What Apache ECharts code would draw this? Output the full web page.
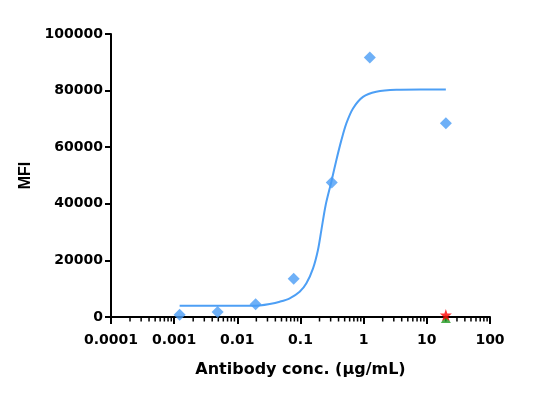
<!DOCTYPE html>
<html><head><meta charset="utf-8">
<script src="https://cdn.jsdelivr.net/npm/echarts@6/dist/echarts.min.js"></script>
<style>html,body{margin:0;padding:0;background:#fff}#c{width:545px;height:400px}</style>
</head><body><div id="c"></div>
<script>
const concentrations = [0.00122, 0.00488, 0.0195, 0.078, 0.3125, 1.25, 20];
const mfiValues = [800, 1800, 4500, 13500, 47500, 91700, 68500];
const curveX = [0.00122, 0.003, 0.008, 0.0157, 0.0226, 0.0326, 0.0469, 0.0675, 0.097, 0.124, 0.158, 0.189, 0.214, 0.25, 0.308, 0.37, 0.444, 0.532, 0.678, 0.975, 1.58, 3.29, 8, 20];
const curveY = [4000, 4000, 4000, 4000, 4100, 4600, 5400, 6600, 8900, 11900, 17200, 23700, 30700, 39500, 47800, 55500, 62500, 68400, 73700, 77800, 79600, 80300, 80400, 80400];
const controlX = [20];
const controlA = [0];
const controlB = [0];
const xTickLabels = ['0.0001', '0.001', '0.01', '0.1', '1', '10', '100'];
const minorTickX = [];
[0.0001, 0.001, 0.01, 0.1, 1, 10].forEach(d => { for (let k = 2; k <= 9; k++) minorTickX.push(d * k); });

const wide = '"DejaVu Sans", Verdana, sans-serif';
const narrow = '"Liberation Sans", Arial, sans-serif';
const chart = echarts.init(document.getElementById('c'));
chart.setOption({
  animation: false,
  grid: { left: 111, right: 55, top: 34, bottom: 83 },
  xAxis: {
    type: 'log', logBase: 10, min: 0.0001, max: 100,
    name: 'Antibody conc. (μg/mL)', nameLocation: 'middle', nameGap: 45,
    nameTextStyle: { fontFamily: wide, fontWeight: 'bold', fontSize: 16, color: '#000' },
    axisLine: { onZero: false, lineStyle: { color: '#000', width: 2 } },
    axisTick: { length: 7, lineStyle: { color: '#000', width: 2 } },
    axisLabel: { fontFamily: wide, fontWeight: 'bold', fontSize: 14, color: '#000', margin: 16,
      formatter: v => xTickLabels[Math.round(Math.log10(v)) + 4] },
    splitLine: { show: false }
  },
  yAxis: {
    type: 'value', min: 0, max: 100000, interval: 20000,
    name: 'MFI', nameLocation: 'middle', nameGap: 72,
    nameTextStyle: { fontFamily: narrow, fontWeight: 'bold', fontSize: 16, color: '#000' },
    axisLine: { show: true, lineStyle: { color: '#000', width: 2 } },
    axisTick: { show: true, length: 6, lineStyle: { color: '#000', width: 2 } },
    axisLabel: { fontFamily: wide, fontWeight: 'bold', fontSize: 14, color: '#000', margin: 8,
      formatter: v => String(v) },
    splitLine: { show: false }
  },
  series: [
    {
      type: 'custom', silent: true, clip: false, z: 1,
      data: minorTickX.map(x => [x, 0]),
      renderItem: (params, api) => {
        const p = api.coord([api.value(0), 0]);
        return { type: 'line', shape: { x1: p[0], y1: p[1], x2: p[0], y2: p[1] + 4.5 },
          style: { stroke: '#000', lineWidth: 1.5 } };
      }
    },
    {
      type: 'line', smooth: 0.3, showSymbol: false, z: 2,
      data: curveX.map((x, i) => [x, curveY[i]]),
      lineStyle: { color: '#4d9ff5', width: 2 }
    },
    {
      type: 'scatter', symbol: 'diamond', symbolSize: 12, z: 3,
      data: concentrations.map((x, i) => [x, mfiValues[i]]),
      itemStyle: { color: '#4a9cf5' }
    },
    {
      type: 'scatter', symbol: 'triangle', symbolSize: [10, 8], symbolOffset: [0, 2], clip: false, z: 4,
      data: controlX.map((x, i) => [x, controlA[i]]),
      itemStyle: { color: '#1f9a1f' }
    },
    {
      type: 'scatter', symbol: 'path://M0,-10 L2.35,-3.24 L9.51,-3.09 L3.8,1.24 L5.88,8.09 L0,4 L-5.88,8.09 L-3.8,1.24 L-9.51,-3.09 L-2.35,-3.24 Z',
      symbolSize: 12, symbolOffset: [0, -2], clip: false, z: 5,
      data: controlX.map((x, i) => [x, controlB[i]]),
      itemStyle: { color: '#ff0000' }
    }
  ]
});
</script></body></html>
